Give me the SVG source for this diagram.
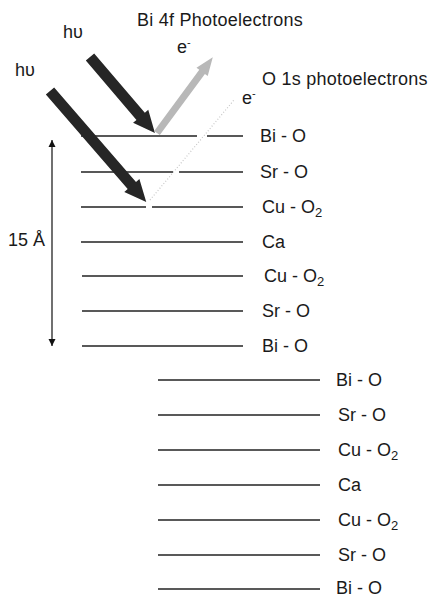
<svg xmlns="http://www.w3.org/2000/svg" width="430" height="600" viewBox="0 0 430 600">
<style>
text{font-family:"Liberation Sans",Arial,sans-serif;font-size:18px;fill:#1a1a1a}
.ttl{letter-spacing:0.25px}
.lay{stroke:#222;stroke-width:1.3}
.sub{font-size:13px}
.sup{font-size:11px}
.dark{fill:#262626}
.grey{fill:#b8b8b8}
</style>
<defs>
<marker id="ah" viewBox="0 0 10 10" refX="10" refY="5" markerWidth="7" markerHeight="9" markerUnits="userSpaceOnUse" orient="auto-start-reverse">
<path d="M0,0 L10,5 L0,10 z" fill="#111"/>
</marker>
</defs>
<rect width="430" height="600" fill="#fff"/>
<g id="titles">
<text class="ttl" x="137" y="26">Bi 4f Photoelectrons</text>
<text class="ttl" x="262" y="85">O 1s photoelectrons</text>
<text x="63" y="38">hυ</text>
<text x="15" y="76">hυ</text>
<text x="177" y="53">e<tspan class="sup" dy="-7">-</tspan></text>
<text x="242" y="104">e<tspan class="sup" dy="-7">-</tspan></text>
<text x="8" y="246">15 Å</text>
</g>
<g id="stack1">
<g id="s1-bio-top"><path class="lay" d="M81,136 H197 M207,136 H243"/><text x="260" y="142">Bi - O</text></g>
<g id="s1-sro-top"><path class="lay" d="M81,172 H173 M179,172 H243"/><text x="260" y="178">Sr - O</text></g>
<g id="s1-cuo-top"><path class="lay" d="M81,207 H146 M152,207 H243"/><text x="262" y="213">Cu - O<tspan class="sub" dy="4">2</tspan></text></g>
<g id="s1-ca"><path class="lay" d="M81,242 H243"/><text x="262" y="248">Ca</text></g>
<g id="s1-cuo-bot"><path class="lay" d="M82,276 H243"/><text x="264" y="282">Cu - O<tspan class="sub" dy="4">2</tspan></text></g>
<g id="s1-sro-bot"><path class="lay" d="M82,311 H243"/><text x="262" y="317">Sr - O</text></g>
<g id="s1-bio-bot"><path class="lay" d="M82,346 H243"/><text x="262" y="352">Bi - O</text></g>
</g>
<g id="stack2">
<g id="s2-bio-top"><path class="lay" d="M158,380 H320"/><text x="336" y="386">Bi - O</text></g>
<g id="s2-sro-top"><path class="lay" d="M158,415 H320"/><text x="338" y="421">Sr - O</text></g>
<g id="s2-cuo-top"><path class="lay" d="M158,450 H320"/><text x="338" y="456">Cu - O<tspan class="sub" dy="4">2</tspan></text></g>
<g id="s2-ca"><path class="lay" d="M158,485 H320"/><text x="338" y="491">Ca</text></g>
<g id="s2-cuo-bot"><path class="lay" d="M158,520 H320"/><text x="338" y="526">Cu - O<tspan class="sub" dy="4">2</tspan></text></g>
<g id="s2-sro-bot"><path class="lay" d="M158,555 H320"/><text x="338" y="561">Sr - O</text></g>
<g id="s2-bio-bot"><path class="lay" d="M158,589 H320"/><text x="336" y="594">Bi - O</text></g>
</g>
<g id="connectors">
<line x1="52" y1="140" x2="52" y2="346" stroke="#111" stroke-width="1.2" marker-start="url(#ah)" marker-end="url(#ah)"/>
<line x1="150" y1="200" x2="234" y2="100" stroke="#c8c8c8" stroke-width="1.2" stroke-dasharray="1 2"/>
<polygon class="dark" points="0,-5.5 78,-5.5 78,-10 100,0 78,10 78,5.5 0,5.5" transform="translate(90,57) rotate(49.5)"/>
<polygon class="dark" points="0,-5.5 125,-5.5 125,-10 147,0 125,10 125,5.5 0,5.5" transform="translate(50,91) rotate(49.1)"/>
<polygon class="grey" points="0,-3.5 76,-3.5 76,-7 94,0 76,7 76,3.5 0,3.5" transform="translate(157,133) rotate(-53.6)"/>
</g>
</svg>
